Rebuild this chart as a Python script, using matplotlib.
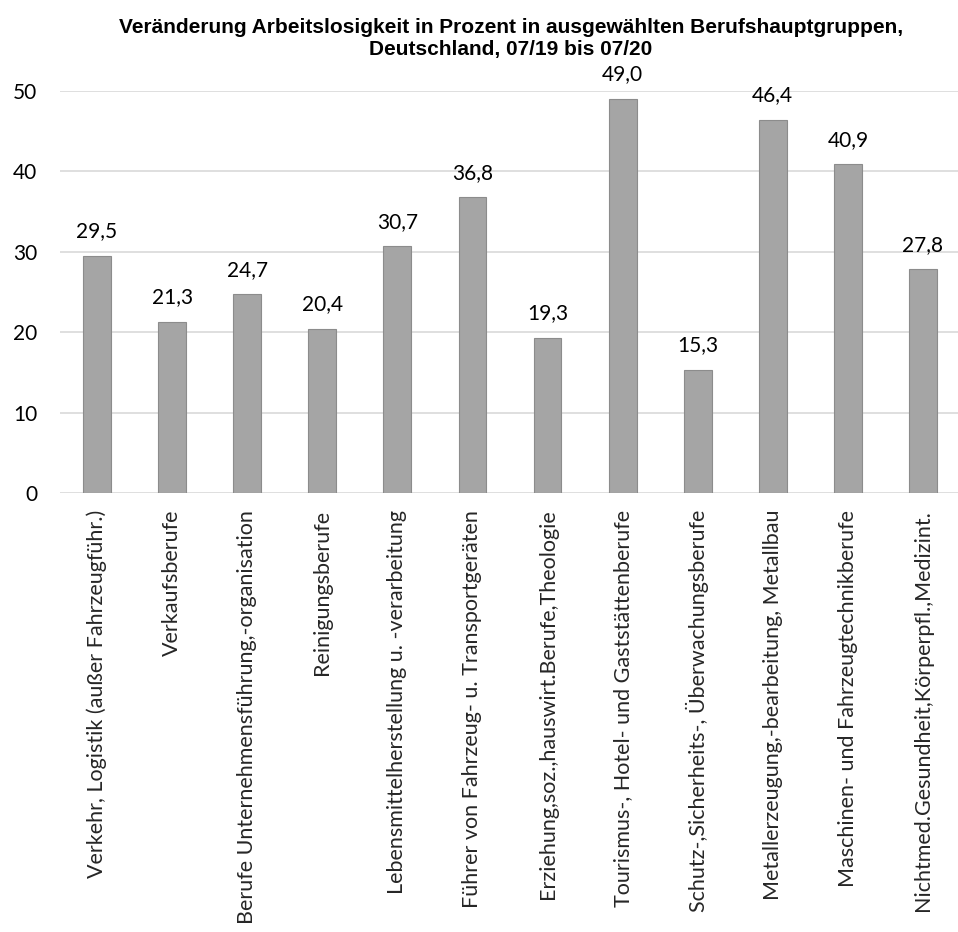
import matplotlib.pyplot as plt
import numpy as np

kategorien = [
    'Verkehr, Logistik (außer Fahrzeugführ.)',
    'Verkaufsberufe',
    'Berufe Unternehmensführung,-organisation',
    'Reinigungsberufe',
    'Lebensmittelherstellung u. -verarbeitung',
    'Führer von Fahrzeug- u. Transportgeräten',
    'Erziehung,soz.,hauswirt.Berufe,Theologie',
    'Tourismus-, Hotel- und Gaststättenberufe',
    'Schutz-,Sicherheits-, Überwachungsberufe',
    'Metallerzeugung,-bearbeitung, Metallbau',
    'Maschinen- und Fahrzeugtechnikberufe',
    'Nichtmed.Gesundheit,Körperpfl.,Medizint.',
]
werte = [29.5, 21.3, 24.7, 20.4, 30.7, 36.8, 19.3, 49.0, 15.3, 46.4, 40.9, 27.8]
y_ticks = [0, 10, 20, 30, 40, 50]

plt.rcParams['font.family'] = ['Lato', 'DejaVu Sans']

fig = plt.figure(figsize=(9.58, 9.32), dpi=100)
ax = fig.add_axes([59.5 / 958, 439 / 932, 901 / 958, 402 / 932])

x = np.arange(len(werte))
bars = ax.bar(x, werte, 0.37, color='#a5a5a5', edgecolor='#8c8c8c', linewidth=0.8, zorder=3)

for xi, v in zip(x, werte):
    ax.text(xi, v + 1.8, f'{v:.1f}'.replace('.', ','), ha='center', va='bottom',
            fontsize=15, color='black')

ax.set_xlim(-0.5, len(werte) - 0.5)
ax.set_ylim(0, 50)
ax.set_yticks(y_ticks)
ax.set_yticklabels([str(t) for t in y_ticks], fontsize=15)
ax.yaxis.grid(True, color='#d9d9d9', linewidth=1.2, zorder=0)
ax.set_xticks(x)
ax.set_xticklabels(kategorien, rotation=90, fontsize=15.5, color='#262626')
ax.tick_params(axis='both', length=0)
ax.tick_params(axis='x', pad=12)
ax.tick_params(axis='y', pad=16)
for s in ax.spines.values():
    s.set_visible(False)

fig.text(0.533, 0.981, 'Veränderung Arbeitslosigkeit in Prozent in ausgewählten Berufshauptgruppen,\nDeutschland, 07/19 bis 07/20',
         ha='center', va='top', fontsize=15, fontweight='bold',
         family=['Liberation Sans', 'DejaVu Sans'], linespacing=1.2)

fig.savefig('out.png', dpi=100)
